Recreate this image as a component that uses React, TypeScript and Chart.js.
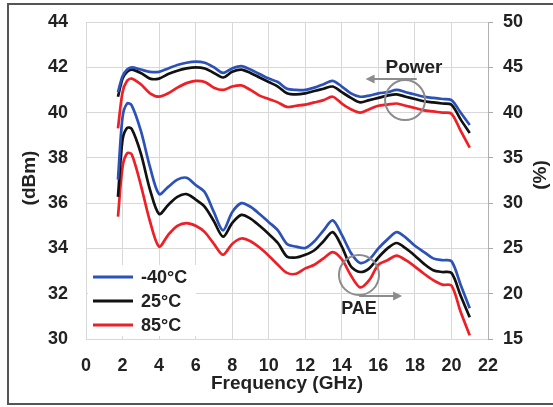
import { useEffect, useRef } from "react";
import { Chart, registerables } from "chart.js";

Chart.register(...registerables);

// ---- data ----
const frequencyGHz = [
  1.75, 2, 2.25, 2.5, 3, 3.5, 4, 4.5, 5, 5.5, 6, 6.5, 7, 7.5, 8, 8.5, 9, 9.5, 10, 10.5,
  11, 11.5, 12, 12.5, 13, 13.5, 14, 14.5, 15, 15.5, 16, 16.5, 17, 17.5, 18, 18.5, 19, 19.5,
  20, 20.5, 21,
];

const powerMinus40 = [
  40.9, 41.6, 41.9, 42.0, 41.9, 41.8, 41.8, 41.95, 42.1, 42.2, 42.25, 42.2, 42.0, 41.75, 41.95,
  42.05, 41.9, 41.7, 41.5, 41.35, 41.05, 41.0, 41.0, 41.1, 41.25, 41.4, 41.15, 40.85, 40.7,
  40.75, 40.85, 40.9, 41.0, 40.9, 40.8, 40.7, 40.65, 40.6, 40.55, 40.0, 39.45,
];
const power25 = [
  40.7, 41.5, 41.8, 41.9, 41.75, 41.5, 41.5, 41.7, 41.85, 41.95, 42.0, 41.95, 41.75, 41.55,
  41.8, 41.9, 41.75, 41.55, 41.35, 41.15, 40.85, 40.8, 40.85, 40.95, 41.05, 41.15, 40.9, 40.65,
  40.45, 40.55, 40.65, 40.75, 40.8, 40.7, 40.6, 40.5, 40.45, 40.4, 40.35, 39.7, 39.1,
];
const power85 = [
  39.3, 40.9, 41.4, 41.5, 41.25, 40.85, 40.7, 40.85, 41.1, 41.3, 41.4, 41.35, 41.1, 41.0, 41.15,
  41.2, 41.0, 40.75, 40.6, 40.45, 40.25, 40.3, 40.35, 40.45, 40.55, 40.7, 40.4, 40.15, 40.0,
  40.15, 40.3, 40.35, 40.4, 40.3, 40.2, 40.1, 40.05, 40.0, 39.95, 39.2, 38.45,
];

const paeMinus40 = [
  32.6, 39.5, 41.0, 40.8, 38.0, 34.0, 31.0, 31.8, 32.6, 32.8, 32.0, 31.2, 29.0, 27.0, 29.0,
  30.0, 29.6, 28.8, 27.9, 27.0, 25.5, 25.2, 25.05, 25.8, 27.0, 28.1, 26.5, 24.5, 23.4, 23.8,
  25.0, 26.0, 26.8, 26.2, 25.3, 24.6, 23.9, 23.7, 23.6, 21.0, 18.4,
];
const pae25 = [
  30.7, 37.0, 38.3, 38.2, 35.5, 31.5, 28.8, 29.8, 30.7, 31.0, 30.4, 29.6, 28.0, 26.3, 27.8,
  28.7, 28.3, 27.5, 26.6, 25.6, 24.1, 24.0, 24.3, 24.8, 25.8, 26.8, 25.2, 23.0, 22.4, 22.8,
  24.0, 25.0, 25.6, 25.0, 24.2, 23.3, 22.6, 22.4, 22.3, 19.8, 17.4,
];
const pae85 = [
  28.5, 34.0, 35.5, 35.4, 32.0, 28.0, 25.2, 26.5, 27.5, 27.8, 27.5, 26.8, 25.5, 24.3, 25.5,
  26.1, 25.8, 25.1, 24.2, 23.2, 22.3, 22.2, 22.8, 23.2, 23.9, 24.6, 23.8, 22.0, 20.7, 21.5,
  23.2, 23.7, 24.2, 23.7, 23.0, 22.2, 21.5, 21.0, 20.9, 18.0, 15.4,
];

const legendLabels = ["-40°C", "25°C", "85°C"];
const seriesColors = ["#2c52b8", "#111111", "#ee1f26"];

const xAxisTitle = "Frequency (GHz)";
const leftAxisTitle = "(dBm)";
const rightAxisTitle = "(%)";
const powerLabel = "Power";
const paeLabel = "PAE";

// annotation anchors in data units
const powerCircle = { x: 17.46, y: 40.55 };
const powerArrow = { from: 18.1, to: 15.3, y: 41.48 };
const powerText = { x: 17.95, y: 41.97 };
const paeCircle = { x: 14.94, y: 22.07 };
const paeArrow = { from: 14.95, to: 17.3, y: 19.75 };
const paeText = { x: 14.94, y: 18.3 };

const FONT = '"Liberation Sans", Arial, sans-serif';
const TEXT_COLOR = "#222222";
const GRID_COLOR = "#d8d8d8";

function toXY(ys: number[]) {
  return ys.map((y, i) => ({ x: frequencyGHz[i], y }));
}

const decorPlugin = {
  id: "decor",
  beforeDraw(chart: any) {
    const { ctx, width, height } = chart;
    ctx.save();
    ctx.fillStyle = "#ffffff";
    ctx.fillRect(0, 0, width, height);
    ctx.restore();
  },
  afterDraw(chart: any) {
    const { ctx } = chart;
    const xs = chart.scales.x;
    const ys = chart.scales.y;
    const y2 = chart.scales.y2;
    ctx.save();

    // outer frame
    ctx.strokeStyle = "#555555";
    ctx.lineWidth = 2;
    ctx.strokeRect(8, 4, 600, 400);

    // legend box
    ctx.fillStyle = "#ffffff";
    ctx.fillRect(88, 265, 108, 71);
    ctx.font = `bold 18px ${FONT}`;
    ctx.textBaseline = "middle";
    ctx.textAlign = "left";
    legendLabels.forEach((lab, i) => {
      const yy = 277 + i * 24;
      ctx.strokeStyle = seriesColors[i];
      ctx.lineWidth = 3;
      ctx.beginPath();
      ctx.moveTo(93, yy);
      ctx.lineTo(133, yy);
      ctx.stroke();
      ctx.fillStyle = TEXT_COLOR;
      ctx.fillText(lab, 141, yy + 1);
    });

    // axis titles
    ctx.font = `bold 19px ${FONT}`;
    ctx.fillStyle = TEXT_COLOR;
    ctx.textAlign = "center";
    ctx.fillText(xAxisTitle, 287, 384);
    ctx.save();
    ctx.translate(30, 178);
    ctx.rotate(-Math.PI / 2);
    ctx.fillText(leftAxisTitle, 0, 0);
    ctx.restore();
    ctx.save();
    ctx.translate(541, 175);
    ctx.rotate(-Math.PI / 2);
    ctx.fillText(rightAxisTitle, 0, 0);
    ctx.restore();

    // annotations
    const gray = "#8c8c8c";
    ctx.strokeStyle = gray;
    ctx.lineWidth = 2;
    const drawArrow = (x1: number, x2: number, y: number) => {
      const dir = Math.sign(x2 - x1);
      ctx.strokeStyle = gray;
      ctx.beginPath();
      ctx.moveTo(x1, y);
      ctx.lineTo(x2 - dir * 6, y);
      ctx.stroke();
      ctx.fillStyle = gray;
      ctx.beginPath();
      ctx.moveTo(x2, y);
      ctx.lineTo(x2 - dir * 9, y - 4.5);
      ctx.lineTo(x2 - dir * 9, y + 4.5);
      ctx.closePath();
      ctx.fill();
    };
    // power
    ctx.beginPath();
    ctx.arc(xs.getPixelForValue(powerCircle.x), ys.getPixelForValue(powerCircle.y), 20, 0, Math.PI * 2);
    ctx.stroke();
    drawArrow(
      xs.getPixelForValue(powerArrow.from),
      xs.getPixelForValue(powerArrow.to),
      ys.getPixelForValue(powerArrow.y)
    );
    // pae
    ctx.strokeStyle = gray;
    ctx.beginPath();
    ctx.arc(xs.getPixelForValue(paeCircle.x), y2.getPixelForValue(paeCircle.y), 20, 0, Math.PI * 2);
    ctx.stroke();
    drawArrow(
      xs.getPixelForValue(paeArrow.from),
      xs.getPixelForValue(paeArrow.to),
      y2.getPixelForValue(paeArrow.y)
    );

    ctx.fillStyle = TEXT_COLOR;
    ctx.font = `bold 19px ${FONT}`;
    ctx.textAlign = "center";
    ctx.textBaseline = "middle";
    ctx.fillText(powerLabel, xs.getPixelForValue(powerText.x), ys.getPixelForValue(powerText.y));
    ctx.font = `bold 18px ${FONT}`;
    ctx.fillText(paeLabel, xs.getPixelForValue(paeText.x), y2.getPixelForValue(paeText.y));

    ctx.restore();
  },
};

export default function App() {
  const ref = useRef<HTMLCanvasElement | null>(null);

  useEffect(() => {
    if (!ref.current) return;
    const mk = (label: string, data: number[], color: string, axis: string) => ({
      label,
      data: toXY(data),
      borderColor: color,
      backgroundColor: color,
      borderWidth: 2.7,
      pointRadius: 0,
      tension: 0.3,
      fill: false,
      yAxisID: axis,
    });
    const tickFont = { family: FONT, size: 18, weight: "bold" as const };
    const fixV = (w: number) => (s: any) => {
      s.width = w;
      s.paddingTop = 0;
      s.paddingBottom = 0;
    };
    const chart = new Chart(ref.current, {
      type: "line",
      data: {
        datasets: [
          mk("P " + legendLabels[0], powerMinus40, seriesColors[0], "y"),
          mk("P " + legendLabels[1], power25, seriesColors[1], "y"),
          mk("P " + legendLabels[2], power85, seriesColors[2], "y"),
          mk("PAE " + legendLabels[0], paeMinus40, seriesColors[0], "y2"),
          mk("PAE " + legendLabels[1], pae25, seriesColors[1], "y2"),
          mk("PAE " + legendLabels[2], pae85, seriesColors[2], "y2"),
        ],
      },
      options: {
        animation: false,
        responsive: false,
        maintainAspectRatio: false,
        layout: { padding: { left: 0, right: 0, top: 22, bottom: 0 } },
        plugins: { legend: { display: false }, tooltip: { enabled: false } },
        scales: {
          x: {
            type: "linear",
            min: 0,
            max: 22,
            ticks: { stepSize: 2, color: TEXT_COLOR, font: tickFont, padding: 16, maxRotation: 0 },
            grid: { color: GRID_COLOR, drawTicks: false },
            border: { display: false },
            afterFit: (s: any) => {
              s.height = 68;
              s.paddingLeft = 0;
              s.paddingRight = 0;
            },
          },
          y: {
            position: "left",
            min: 30,
            max: 44,
            ticks: { stepSize: 2, color: TEXT_COLOR, font: tickFont, padding: 18 },
            grid: { color: GRID_COLOR, drawTicks: false },
            border: { display: false },
            afterFit: fixV(86),
          },
          y2: {
            position: "right",
            min: 15,
            max: 50,
            ticks: { stepSize: 5, color: TEXT_COLOR, font: tickFont, padding: 10 },
            grid: { drawOnChartArea: false, color: "#a8a8a8", tickLength: 5 },
            border: { display: true, color: "#b0b0b0" },
            afterFit: fixV(65),
          },
        },
      },
      plugins: [decorPlugin],
    });
    return () => chart.destroy();
  }, []);

  return (
    <div style={{ position: "absolute", left: 0, top: 0, width: 553, height: 407 }}>
      <canvas ref={ref} width={553} height={407} style={{ display: "block" }} />
    </div>
  );
}
